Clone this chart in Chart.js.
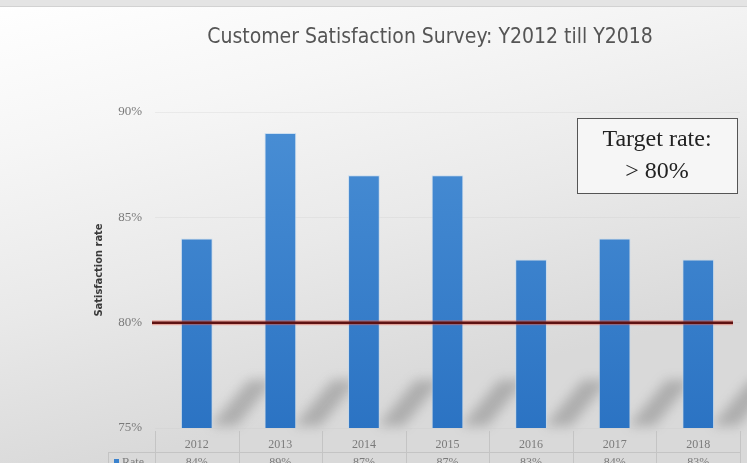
<!DOCTYPE html>
<html>
<head>
<meta charset="utf-8">
<script src="https://cdn.jsdelivr.net/npm/chart.js@4/dist/chart.umd.min.js"></script>
<style>
  html, body { margin: 0; padding: 0; background: #fff; }
  #wrap { width: 747px; height: 463px; }
</style>
</head>
<body>
<div id="wrap"><canvas id="graficoEncuesta" width="747" height="463"></canvas></div>
<script>
// datos de la encuesta
const anios = ["2012", "2013", "2014", "2015", "2016", "2017", "2018"];
const tasas = [84, 89, 87, 87, 83, 84, 83];
const metaTasa = 80;
const ejeY = { min: 75, max: 90, paso: 5 };
const nombreSerie = "Rate";
const titulo = "Customer Satisfaction Survey: Y2012 till Y2018";

// fondo gris degradado, borde de arriba, titulo y sombras
const fondo = {
  id: "fondo",
  beforeDraw(chart) {
    const { ctx, width, height, chartArea } = chart;
    ctx.save();
    const g = ctx.createLinearGradient(0, 0, width * 0.15, height);
    g.addColorStop(0, "#ffffff");
    g.addColorStop(0.3, "#f6f6f6");
    g.addColorStop(0.65, "#e9e9e9");
    g.addColorStop(1, "#d9d9d9");
    ctx.fillStyle = g;
    ctx.fillRect(0, 0, width, height);
    ctx.fillStyle = "#e4e4e4";
    ctx.fillRect(0, 0, width, 6);
    ctx.fillStyle = "#d2d2d2";
    ctx.fillRect(0, 6, width, 1);

    ctx.fillStyle = "#555";
    ctx.font = "21px 'DejaVu Sans Condensed', sans-serif";
    ctx.textAlign = "center";
    ctx.textBaseline = "middle";
    ctx.fillText(titulo, 430, 38);

    // sombras inclinadas: se dibuja fuera del lienzo y solo queda la sombra
    const off = 1500;
    const b = chartArea.bottom;
    ctx.shadowColor = "rgba(120,120,120,0.45)";
    ctx.shadowBlur = 12;
    ctx.shadowOffsetX = off;
    ctx.fillStyle = "#000";
    chart.getDatasetMeta(0).data.forEach(bar => {
      const r = bar.x + bar.width / 2 - off;
      ctx.beginPath();
      ctx.moveTo(r - 2, b - 2);
      ctx.lineTo(r + 24, b - 2);
      ctx.lineTo(r + 62, b - 48);
      ctx.lineTo(r + 36, b - 48);
      ctx.closePath();
      ctx.fill();
    });
    ctx.restore();
  }
};

// linea de meta, cuadro de texto y tabla de datos
const extras = {
  id: "extras",
  afterDraw(chart) {
    const { ctx, chartArea } = chart;
    const x = chart.scales.x;
    const y = chart.scales.y;
    ctx.save();

    // linea roja del objetivo
    const yMeta = y.getPixelForValue(metaTasa);
    ctx.strokeStyle = "rgba(230,90,70,0.45)";
    ctx.lineWidth = 5;
    ctx.beginPath();
    ctx.moveTo(chartArea.left - 3, yMeta);
    ctx.lineTo(chartArea.right - 7, yMeta);
    ctx.stroke();
    ctx.strokeStyle = "#5e1212";
    ctx.lineWidth = 2.5;
    ctx.stroke();

    // cuadro "Target rate"
    ctx.fillStyle = "#f6f6f6";
    ctx.fillRect(577, 118, 160, 75);
    ctx.strokeStyle = "#555";
    ctx.lineWidth = 1;
    ctx.strokeRect(577.5, 118.5, 160, 75);
    ctx.fillStyle = "#222";
    ctx.font = "24px 'Liberation Serif'";
    ctx.textAlign = "center";
    ctx.textBaseline = "middle";
    ctx.fillText("Target rate:", 657, 140);
    ctx.fillText("> " + metaTasa + "%", 657, 172);

    // tabla de datos debajo del eje
    const paso = (chartArea.right - chartArea.left) / anios.length;
    const filaY = 452;
    ctx.strokeStyle = "#c4c4c4";
    ctx.beginPath();
    for (let i = 0; i <= anios.length; i++) {
      const vx = Math.round(chartArea.left + i * paso) + 0.5;
      ctx.moveTo(vx, chartArea.bottom + 3);
      ctx.lineTo(vx, chart.height);
    }
    ctx.moveTo(108, filaY + 0.5);
    ctx.lineTo(chartArea.right, filaY + 0.5);
    ctx.moveTo(108.5, filaY);
    ctx.lineTo(108.5, chart.height);
    ctx.stroke();

    ctx.font = "12px 'Liberation Serif'";
    ctx.fillStyle = "#7a7a7a";
    ctx.textBaseline = "top";
    tasas.forEach((v, i) => {
      ctx.fillText(v + "%", x.getPixelForValue(i), filaY + 5);
    });
    ctx.textAlign = "left";
    ctx.fillStyle = "#3a82ce";
    ctx.fillRect(114, filaY + 7, 5, 5);
    ctx.fillStyle = "#7a7a7a";
    ctx.fillText(nombreSerie, 122, filaY + 5);
    ctx.restore();
  }
};

const ctx = document.getElementById("graficoEncuesta");
const colorBarra = (() => {
  const c = ctx.getContext("2d");
  const g = c.createLinearGradient(0, 110, 0, 430);
  g.addColorStop(0, "#4a8fd5");
  g.addColorStop(1, "#2b73c3");
  return g;
})();

new Chart(ctx, {
  type: "bar",
  data: {
    labels: anios,
    datasets: [{
      label: nombreSerie,
      data: tasas,
      backgroundColor: colorBarra,
      borderColor: "rgba(190,215,240,0.7)",
      borderWidth: 1,
      borderSkipped: "bottom",
      barPercentage: 0.38,
      categoryPercentage: 1.0
    }]
  },
  options: {
    responsive: false,
    animation: false,
    devicePixelRatio: 1,
    layout: { padding: { left: 93, right: 7, top: 112, bottom: 0 } },
    plugins: {
      legend: { display: false },
      tooltip: { enabled: false },
      title: { display: false }
    },
    scales: {
      x: {
        grid: { display: false },
        border: { display: false },
        ticks: {
          color: "#7a7a7a",
          font: { family: "'Liberation Serif'", size: 12 },
          padding: 2
        },
        afterFit: s => { s.height = 35; }
      },
      y: {
        min: ejeY.min,
        max: ejeY.max,
        border: { display: false },
        grid: { color: "rgba(200,200,200,0.25)", drawTicks: false },
        ticks: {
          stepSize: ejeY.paso,
          color: "#7a7a7a",
          padding: 13,
          font: { family: "'Liberation Serif'", size: 13 },
          callback: v => v + "%"
        },
        title: {
          display: true,
          text: "Satisfaction rate",
          color: "#3a3a3a",
          font: { family: "'DejaVu Sans Condensed', sans-serif", size: 11, weight: "bold" },
          padding: { top: 0, bottom: 2 }
        },
        afterFit: s => { s.width = 62; }
      }
    }
  },
  plugins: [fondo, extras]
});
</script>
</body>
</html>
